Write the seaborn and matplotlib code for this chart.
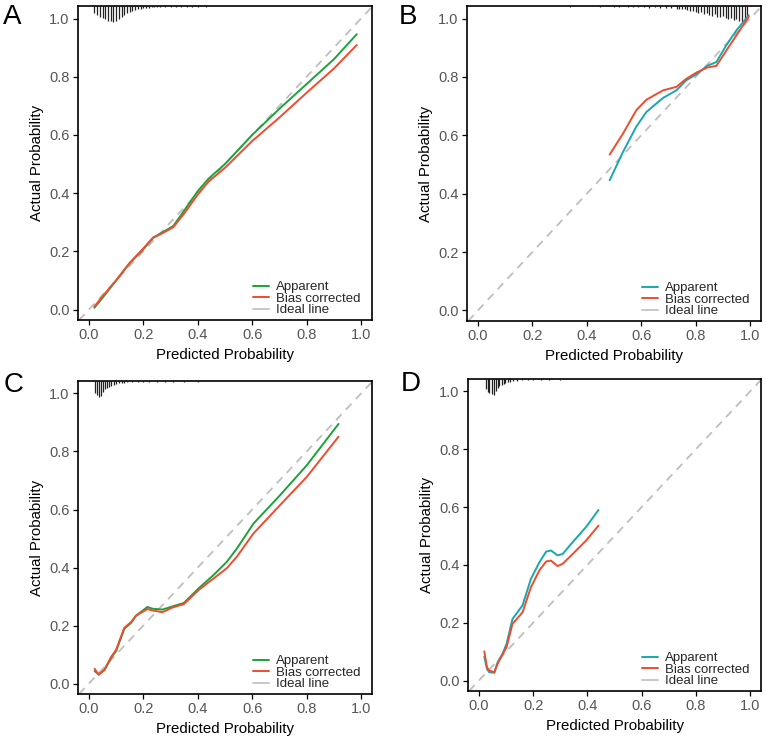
import numpy as np
import pandas as pd
import matplotlib
matplotlib.use("Agg")
import matplotlib.pyplot as plt
import seaborn as sns

# ---------------- data ----------------
# Panel A
a_x = [0.02, 0.05, 0.10, 0.15, 0.20, 0.236, 0.27, 0.31, 0.35, 0.40, 0.44, 0.50, 0.60, 0.70, 0.80, 0.90, 0.984]
a_app = [0.006, 0.04, 0.10, 0.16, 0.207, 0.247, 0.265, 0.287, 0.34, 0.407, 0.45, 0.50, 0.60, 0.69, 0.775, 0.86, 0.946]
a_bc = [0.010, 0.045, 0.10, 0.16, 0.210, 0.247, 0.262, 0.283, 0.33, 0.395, 0.44, 0.487, 0.579, 0.66, 0.745, 0.828, 0.909]
a_rug_x = [0.02, 0.03, 0.04, 0.05, 0.06, 0.07, 0.08, 0.09, 0.10, 0.11, 0.12, 0.13, 0.14, 0.15,
           0.16, 0.17, 0.18, 0.19, 0.20, 0.21, 0.22, 0.23, 0.24, 0.25, 0.26, 0.28, 0.30, 0.32,
           0.34, 0.36, 0.38, 0.40, 0.43, 0.46, 0.49, 0.52, 0.55, 0.58, 0.62, 0.66, 0.70, 0.75,
           0.80, 0.85, 0.90, 0.95, 0.98]
a_rug_f = [0.45, 0.55, 0.65, 0.75, 0.82, 0.90, 0.95, 1.00, 0.92, 0.80, 0.68, 0.57, 0.45, 0.37,
           0.30, 0.25, 0.20, 0.17, 0.14, 0.12, 0.10, 0.09, 0.08, 0.07, 0.06, 0.06, 0.05, 0.05,
           0.05, 0.04, 0.04, 0.04, 0.04, 0.03, 0.03, 0.03, 0.03, 0.03, 0.02, 0.02, 0.02, 0.02,
           0.02, 0.02, 0.02, 0.02, 0.02]

# Panel B
b_x = [0.484, 0.533, 0.582, 0.619, 0.68, 0.729, 0.766, 0.803, 0.842, 0.876, 0.913, 0.95, 0.995]
b_app = [0.446, 0.543, 0.630, 0.680, 0.728, 0.754, 0.789, 0.809, 0.838, 0.851, 0.909, 0.960, 1.011]
b_bc = [0.534, 0.606, 0.686, 0.722, 0.754, 0.766, 0.794, 0.815, 0.832, 0.838, 0.891, 0.943, 1.006]
b_rug_x = [0.34, 0.40, 0.45, 0.50, 0.52, 0.55, 0.57, 0.59, 0.61, 0.63, 0.65, 0.67, 0.69, 0.71,
           0.73, 0.74, 0.75, 0.76, 0.77, 0.78, 0.79, 0.80, 0.81, 0.82, 0.83, 0.84, 0.85, 0.86,
           0.87, 0.88, 0.89, 0.90, 0.91, 0.92, 0.93, 0.94, 0.95, 0.96, 0.97, 0.98, 0.99]
b_rug_f = [0.06, 0.03, 0.04, 0.05, 0.05, 0.06, 0.06, 0.07, 0.08, 0.10, 0.09, 0.12, 0.14, 0.12,
           0.16, 0.18, 0.20, 0.17, 0.25, 0.30, 0.28, 0.35, 0.42, 0.38, 0.48, 0.45, 0.55, 0.62,
           0.50, 0.65, 0.70, 0.60, 0.75, 0.80, 0.72, 0.85, 0.78, 0.90, 1.00, 0.85, 0.70]

# Panel C
c_x = [0.021, 0.036, 0.057, 0.082, 0.10, 0.13, 0.155, 0.173, 0.215, 0.234, 0.27, 0.307, 0.349,
       0.404, 0.459, 0.507, 0.544, 0.605, 0.702, 0.80, 0.917]
c_app = [0.043, 0.032, 0.046, 0.089, 0.112, 0.189, 0.209, 0.234, 0.264, 0.258, 0.255, 0.266, 0.278,
         0.329, 0.375, 0.420, 0.466, 0.552, 0.649, 0.752, 0.895]
c_bc = [0.051, 0.030, 0.048, 0.092, 0.116, 0.192, 0.212, 0.234, 0.257, 0.252, 0.246, 0.262, 0.274,
        0.323, 0.363, 0.398, 0.438, 0.518, 0.615, 0.712, 0.851]
c_rug_x = [0.023, 0.030, 0.038, 0.045, 0.052, 0.060, 0.067, 0.074, 0.081, 0.091, 0.10, 0.11,
           0.12, 0.13, 0.14, 0.16, 0.18, 0.20, 0.22, 0.25, 0.28, 0.31, 0.35, 0.40, 0.45,
           0.50, 0.55, 0.60, 0.65, 0.70, 0.75, 0.80, 0.85, 0.90]
c_rug_f = [0.75, 0.86, 1.00, 0.90, 0.66, 0.51, 0.45, 0.35, 0.29, 0.23, 0.18, 0.15,
           0.12, 0.10, 0.09, 0.08, 0.07, 0.06, 0.06, 0.05, 0.05, 0.04, 0.04, 0.04, 0.03,
           0.03, 0.03, 0.03, 0.02, 0.02, 0.02, 0.02, 0.02, 0.02]

# Panel D
d_x = [0.020, 0.030, 0.038, 0.057, 0.069, 0.087, 0.102, 0.124, 0.161, 0.192, 0.223, 0.248,
       0.266, 0.290, 0.309, 0.346, 0.395, 0.441]
d_app = [0.083, 0.040, 0.029, 0.027, 0.063, 0.092, 0.127, 0.213, 0.260, 0.352, 0.409, 0.446,
         0.450, 0.433, 0.438, 0.479, 0.531, 0.590]
d_bc = [0.101, 0.046, 0.035, 0.029, 0.058, 0.090, 0.115, 0.196, 0.236, 0.323, 0.381, 0.412,
        0.415, 0.396, 0.404, 0.438, 0.484, 0.536]
d_rug_x = [0.025, 0.032, 0.039, 0.047, 0.054, 0.062, 0.069, 0.076, 0.084, 0.091, 0.098, 0.106,
           0.113, 0.125, 0.14, 0.16, 0.18, 0.20, 0.23, 0.26, 0.30, 0.35, 0.40, 0.45, 0.50,
           0.55, 0.60, 0.70, 0.80, 0.90]
d_rug_f = [0.64, 0.78, 0.88, 0.94, 1.00, 0.74, 0.58, 0.44, 0.34, 0.30, 0.24, 0.20,
           0.18, 0.14, 0.10, 0.08, 0.07, 0.06, 0.05, 0.04, 0.04, 0.03, 0.03, 0.03, 0.02,
           0.02, 0.02, 0.02, 0.02, 0.02]

panel_labels = ["A", "B", "C", "D"]
legend_labels = ["Apparent", "Bias corrected", "Ideal line"]
x_ticks = [0.0, 0.2, 0.4, 0.6, 0.8, 1.0]
y_ticks = [0.0, 0.2, 0.4, 0.6, 0.8, 1.0]

# ---------------- style ----------------
sns.set_style("ticks")
plt.rcParams["font.family"] = ["Liberation Sans", "DejaVu Sans"]

GREEN = "#1DA13A"
RED = "#F04B2E"
TEAL = "#17A8AE"
GRAY = "#BEBEBE"

W, H = 766, 743
fig = plt.figure(figsize=(W / 100, H / 100), dpi=100)

# pixel boxes: left, right, top, bottom
boxes = [(78, 372, 6, 320), (467, 761, 6, 321), (78, 372, 381, 694), (468, 761, 379, 691)]
letter_pos = [(3, 4), (399, 4), (4, 372), (401, 371)]

panels = [
    (a_x, a_app, a_bc, a_rug_x, a_rug_f, GREEN),
    (b_x, b_app, b_bc, b_rug_x, b_rug_f, TEAL),
    (c_x, c_app, c_bc, c_rug_x, c_rug_f, GREEN),
    (d_x, d_app, d_bc, d_rug_x, d_rug_f, TEAL),
]

XLIM = (-0.04, 1.04)
YLIM = (-0.036, 1.043)
RUG_MAX = 0.056

for i, ((px, app, bc, rx, rf, app_col), (l, r, t, b)) in enumerate(zip(panels, boxes)):
    ax = fig.add_axes([l / W, 1 - b / H, (r - l) / W, (b - t) / H])
    ax.set_xlim(*XLIM)
    ax.set_ylim(*YLIM)

    # ideal line
    ax.axline((0, 0), (1, 1), color=GRAY, lw=1.3, ls=(0, (4.5, 3.5)), zorder=1)

    df = pd.DataFrame({"x": px, "app": app, "bc": bc})
    sns.lineplot(data=df, x="x", y="app", ax=ax, color=app_col, lw=1.4, sort=False,
                 estimator=None, zorder=3)
    sns.lineplot(data=df, x="x", y="bc", ax=ax, color=RED, lw=1.4, sort=False,
                 estimator=None, zorder=4)

    # rug of predicted probabilities hanging from top
    top = YLIM[1]
    rf_arr = np.asarray(rf)
    ax.vlines(rx, top - rf_arr * RUG_MAX, top, color="#222222", lw=0.9, zorder=2)

    ax.set_xticks(x_ticks)
    ax.set_yticks(y_ticks)
    ax.set_xticklabels([f"{v:.1f}" for v in x_ticks])
    ax.set_yticklabels([f"{v:.1f}" for v in y_ticks])
    ax.tick_params(axis="both", direction="out", length=3.5, width=0.9, color="black",
                   labelsize=10.5, labelcolor="#555555", pad=2.5)
    for sp in ax.spines.values():
        sp.set_visible(True)
        sp.set_color("black")
        sp.set_linewidth(1.2)

    ax.set_xlabel("Predicted Probability", fontsize=10.8, color="black", labelpad=4)
    ax.set_ylabel("Actual Probability", fontsize=10.8, color="black", labelpad=4)

    # legend
    handles = [
        plt.Line2D([], [], color=app_col, lw=1.4),
        plt.Line2D([], [], color=RED, lw=1.4),
        plt.Line2D([], [], color="#C8C8C8", lw=1.4),
    ]
    ax.legend(handles, legend_labels, loc="lower right", frameon=False,
              fontsize=9.5, handlelength=1.2, handletextpad=0.55,
              labelspacing=-0.05, borderaxespad=0.0, bbox_to_anchor=(0.98, -0.005))

    fig.text(letter_pos[i][0] / W, 1 - letter_pos[i][1] / H, panel_labels[i],
             fontsize=20, ha="left", va="top", color="black")

fig.savefig("out.png", dpi=100)
